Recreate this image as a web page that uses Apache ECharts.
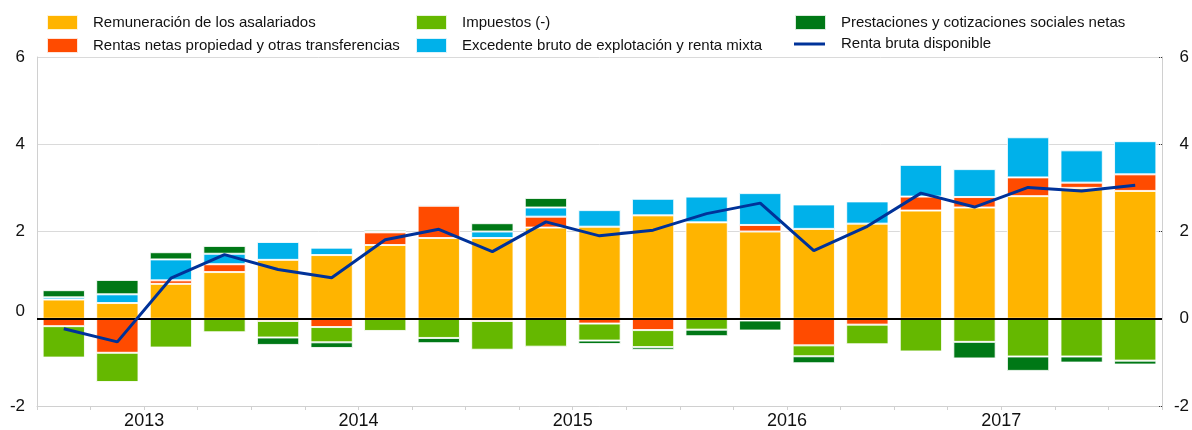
<!DOCTYPE html>
<html>
<head>
<meta charset="utf-8">
<script src="https://cdn.jsdelivr.net/npm/echarts@6/dist/echarts.min.js"></script>
<style>
html,body{margin:0;padding:0;background:#fff;}
#chart{width:1192px;height:430px;}
</style>
</head>
<body>
<div id="chart"></div>
<script>
// ---- data ----
const quarters = ['2013T1','2013T2','2013T3','2013T4','2014T1','2014T2','2014T3','2014T4','2015T1','2015T2','2015T3','2015T4','2016T1','2016T2','2016T3','2016T4','2017T1','2017T2','2017T3','2017T4','2018T1'];
const years = ['2013','2014','2015','2016','2017'];
const yTicks = [-2, 0, 2, 4, 6];

const remuneracion = [0.44, 0.36, 0.80, 1.07, 1.35, 1.46, 1.69, 1.85, 1.85, 2.09, 2.11, 2.37, 2.21, 2.00, 2.06, 2.18, 2.48, 2.55, 2.81, 3.00, 2.93];
const rentasNetas  = [-0.17, -0.78, 0.08, 0.18, -0.05, -0.19, 0.29, 0.74, -0.05, 0.25, -0.11, -0.26, 0, 0.15, -0.61, -0.135, 0.32, 0.24, 0.43, 0.12, 0.38];
const impuestos    = [-0.72, -0.67, -0.66, -0.31, -0.38, -0.35, -0.28, -0.44, -0.66, -0.64, -0.39, -0.39, -0.25, -0.04, -0.25, -0.45, -0.75, -0.53, -0.865, -0.865, -0.96];
const excedente    = [0.05, 0.20, 0.48, 0.24, 0.41, 0.17, 0.02, 0.03, 0.15, 0.21, 0.38, 0.38, 0.59, 0.73, 0.56, 0.51, 0.73, 0.64, 0.92, 0.74, 0.76];
const prestaciones = [0.165, 0.33, 0.165, 0.18, -0.17, -0.13, 0.04, -0.12, 0.19, 0.22, -0.08, -0.06, -0.15, -0.23, -0.16, 0, 0, -0.38, -0.33, -0.14, -0.09];
const rentaBruta   = [-0.23, -0.53, 0.93, 1.47, 1.13, 0.94, 1.81, 2.05, 1.54, 2.22, 1.90, 2.03, 2.41, 2.65, 1.56, 2.12, 2.88, 2.56, 3.01, 2.93, 3.06];

const names = {
  rem: 'Remuneración de los asalariados',
  ren: 'Rentas netas propiedad y otras transferencias',
  imp: 'Impuestos (-)',
  exc: 'Excedente bruto de explotación y renta mixta',
  pre: 'Prestaciones y cotizaciones sociales netas',
  rbd: 'Renta bruta disponible'
};
const colors = { rem:'#FFB400', ren:'#FF4B00', imp:'#65B800', exc:'#00B1EA', pre:'#007816', rbd:'#003299' };

const FONT = '"Liberation Sans", Arial, sans-serif';

const chart = echarts.init(document.getElementById('chart'), null, {renderer:'canvas'});

function barSeries(key, data) {
  return {
    name: names[key], type: 'bar', stack: 'total', data: data,
    xAxisIndex: 0, yAxisIndex: 0,
    barCategoryGap: '21%',
    itemStyle: { color: colors[key], borderColor: 'rgba(255,255,255,0.85)', borderWidth: 1 },
    emphasis: { disabled: true }
  };
}

const legendCommon = {
  orient: 'vertical', top: 14, padding: 0,
  itemWidth: 31, itemHeight: 15, itemGap: 6,
  selectedMode: false,
  textStyle: { fontFamily: FONT, fontSize: 15, color: '#111', lineHeight: 16, padding: [0,0,0,10] }
};

const option = {
  animation: false,
  backgroundColor: '#fff',
  textStyle: { fontFamily: FONT },
  legend: [
    Object.assign({}, legendCommon, { left: 46, data: [{name: names.rem, icon:'rect'}, {name: names.ren, icon:'rect'}] }),
    Object.assign({}, legendCommon, { left: 415, data: [{name: names.imp, icon:'rect'}, {name: names.exc, icon:'rect'}] }),
    Object.assign({}, legendCommon, { left: 794, data: [{name: names.pre, icon:'rect'}] }),
    Object.assign({}, legendCommon, { left: 794, top: 36, itemHeight: 3, data: [{name: names.rbd, icon:'rect'}],
      textStyle: Object.assign({}, legendCommon.textStyle, { padding: [0,0,0,11] }) })
  ],
  grid: { left: 37, right: 28, top: 57, bottom: 21, containLabel: false },
  xAxis: [
    {
      type: 'category', data: quarters, boundaryGap: true, position: 'bottom',
      axisLine: { onZero: false, lineStyle: { color: '#d0d0d0', width: 1 } },
      axisTick: { show: true, interval: 0, length: 4, inside: false, lineStyle: { color: '#d0d0d0' } },
      axisLabel: { show: false },
      splitLine: { show: false }
    },
    {
      type: 'value', min: 0, max: quarters.length, interval: 2, position: 'bottom',
      axisLine: { show: false }, axisTick: { show: false }, splitLine: { show: false },
      axisLabel: {
        show: true, margin: 6, fontSize: 18, color: '#111', fontFamily: FONT,
        showMinLabel: true, showMaxLabel: false,
        formatter: function (v) { const k = (v - 2) / 4; return (Number.isInteger(k) && years[k]) ? years[k] : ''; }
      }
    }
  ],
  yAxis: [
    {
      type: 'value', min: yTicks[0], max: yTicks[yTicks.length-1], interval: 2, position: 'left',
      axisLine: { show: true, lineStyle: { color: '#d0d0d0' } },
      axisTick: { show: false },
      splitLine: { show: true, lineStyle: { color: '#dadada', width: 1 } },
      axisLabel: {
        margin: 12, fontSize: 17, color: '#111', fontFamily: FONT,
        formatter: function (v) { return v === 0 ? '{z|0}' : String(v); },
        rich: { z: { fontSize: 17, color: '#111', fontFamily: FONT, padding: [0,0,14,0] } }
      }
    },
    {
      type: 'value', min: yTicks[0], max: yTicks[yTicks.length-1], interval: 2, position: 'right',
      axisLine: { show: true, lineStyle: { color: '#d0d0d0' } },
      axisTick: { show: true, inside: true, length: 3, lineStyle: { color: '#333', type: 'dotted' } },
      splitLine: { show: false },
      axisLabel: { margin: 27, align: 'right', fontSize: 17, color: '#111', fontFamily: FONT }
    }
  ],
  series: [
    barSeries('rem', remuneracion),
    barSeries('ren', rentasNetas),
    barSeries('imp', impuestos),
    barSeries('exc', excedente),
    barSeries('pre', prestaciones),
    {
      name: names.rbd, type: 'line', data: rentaBruta, xAxisIndex: 0, yAxisIndex: 0,
      symbol: 'none', z: 10,
      itemStyle: { color: colors.rbd },
      lineStyle: { color: colors.rbd, width: 3 },
      emphasis: { disabled: true },
      markLine: {
        silent: true, symbol: ['none','none'], label: { show: false },
        lineStyle: { color: '#000', width: 2, type: 'solid' },
        z: 5,
        data: [{ yAxis: 0 }]
      }
    }
  ]
};
chart.setOption(option);
</script>
</body>
</html>
